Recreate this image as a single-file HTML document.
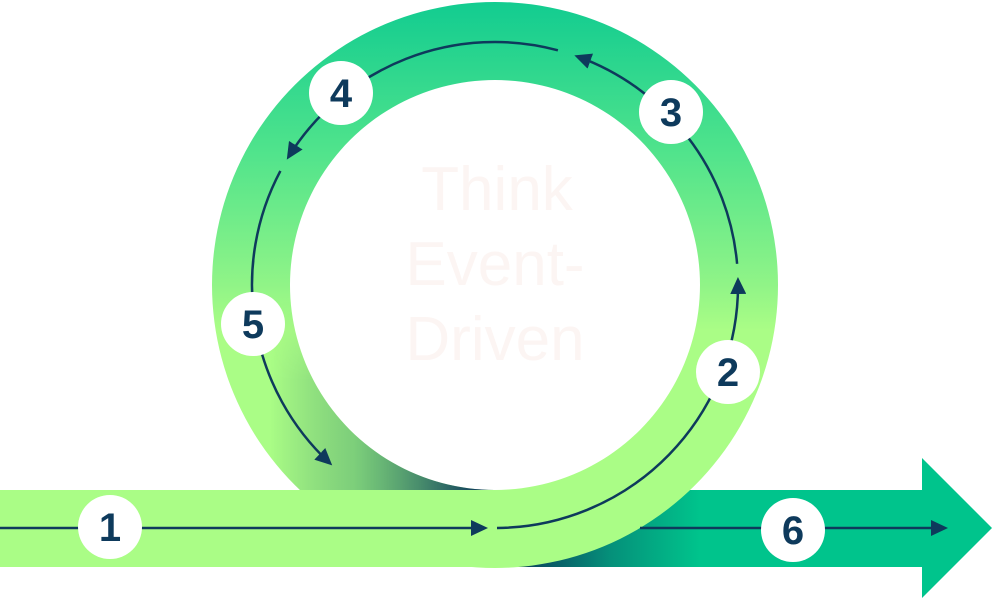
<!DOCTYPE html>
<html><head><meta charset="utf-8"><style>
html,body{margin:0;padding:0;background:#fff;}
svg{display:block;}
</style></head><body>
<svg width="992" height="599" viewBox="0 0 992 599" xmlns="http://www.w3.org/2000/svg">
<defs>
<linearGradient id="ringG" x1="0" y1="2" x2="0" y2="568" gradientUnits="userSpaceOnUse">
<stop offset="0" stop-color="#12cc90"/>
<stop offset="0.26" stop-color="#4fe38c"/>
<stop offset="0.5" stop-color="#90f487"/>
<stop offset="0.58" stop-color="#aafd86"/>
<stop offset="1" stop-color="#aafd86"/>
</linearGradient>
<linearGradient id="arrG" x1="520" y1="0" x2="700" y2="0" gradientUnits="userSpaceOnUse">
<stop offset="0" stop-color="#0b3f5c"/>
<stop offset="0.5" stop-color="#05907a"/>
<stop offset="1" stop-color="#00c48c"/>
</linearGradient>
<linearGradient id="shG" x1="270" y1="0" x2="480" y2="0" gradientUnits="userSpaceOnUse">
<stop offset="0" stop-color="#0e4a5c" stop-opacity="0"/>
<stop offset="0.4" stop-color="#2a7a66" stop-opacity="0.35"/>
<stop offset="1" stop-color="#0e3a5c" stop-opacity="1"/>
</linearGradient>
<linearGradient id="shV" x1="0" y1="300" x2="0" y2="380" gradientUnits="userSpaceOnUse">
<stop offset="0" stop-color="#fff" stop-opacity="0"/>
<stop offset="1" stop-color="#fff" stop-opacity="1"/>
</linearGradient>
<mask id="shM"><rect x="0" y="0" width="992" height="599" fill="url(#shV)"/></mask>
<clipPath id="ringClip">
<path fill-rule="evenodd" d="M495,2 a283,283 0 1,0 0.01,0 Z M495,80 a205,205 0 1,1 -0.01,0 Z"/>
</clipPath>
<marker id="ah" markerWidth="18" markerHeight="16" refX="13" refY="8" orient="auto" markerUnits="userSpaceOnUse">
<path d="M0,0 L17,8 L0,16 Z" fill="#0e3a5c"/>
</marker>
</defs>

<rect x="495" y="490" width="428" height="77" fill="url(#arrG)"/>
<polygon points="922,458 992,528 922,598" fill="#00c48c"/>

<path fill-rule="evenodd" fill="url(#ringG)" d="M495,2 a283,283 0 1,0 0.01,0 Z M495,80 a205,205 0 1,1 -0.01,0 Z"/>
<g clip-path="url(#ringClip)">
<rect x="265" y="300" width="228" height="190" fill="url(#shG)" mask="url(#shM)"/>
</g>
<rect x="0" y="490" width="497" height="77" fill="#aafd86"/>

<g font-family="Liberation Sans, sans-serif" font-size="62" fill="#fcf5f3" text-anchor="middle">
<text x="497" y="210">Think</text>
<text x="495" y="285">Event-</text>
<text x="495" y="360">Driven</text>
</g>

<g stroke="#0e3a5c" stroke-width="2.5" fill="none">
<line x1="0" y1="528" x2="484" y2="528" marker-end="url(#ah)"/>
<path d="M497,528 A243,243 0 0,0 738,281" marker-end="url(#ah)"/>
<path d="M737.1,263.8 A243,243 0 0,0 578.1,56.7" marker-end="url(#ah)"/>
<path d="M557.9,50.3 A243,243 0 0,0 288.9,156.2" marker-end="url(#ah)"/>
<path d="M280.4,170.9 A243,243 0 0,0 329.3,462.7" marker-end="url(#ah)"/>
<line x1="640" y1="528" x2="944" y2="528" marker-end="url(#ah)"/>
</g>

<g font-family="Liberation Sans, sans-serif" font-weight="bold" font-size="40" fill="#0e3a5c" text-anchor="middle">
<circle cx="110" cy="527" r="32" fill="#fff"/><text x="110" y="541">1</text>
<circle cx="728" cy="372" r="32" fill="#fff"/><text x="728" y="386">2</text>
<circle cx="671" cy="112" r="32" fill="#fff"/><text x="671" y="126">3</text>
<circle cx="341" cy="93" r="32" fill="#fff"/><text x="341" y="107">4</text>
<circle cx="253" cy="324" r="32" fill="#fff"/><text x="253" y="338">5</text>
<circle cx="793" cy="530" r="32" fill="#fff"/><text x="793" y="544">6</text>
</g>
</svg>
</body></html>
